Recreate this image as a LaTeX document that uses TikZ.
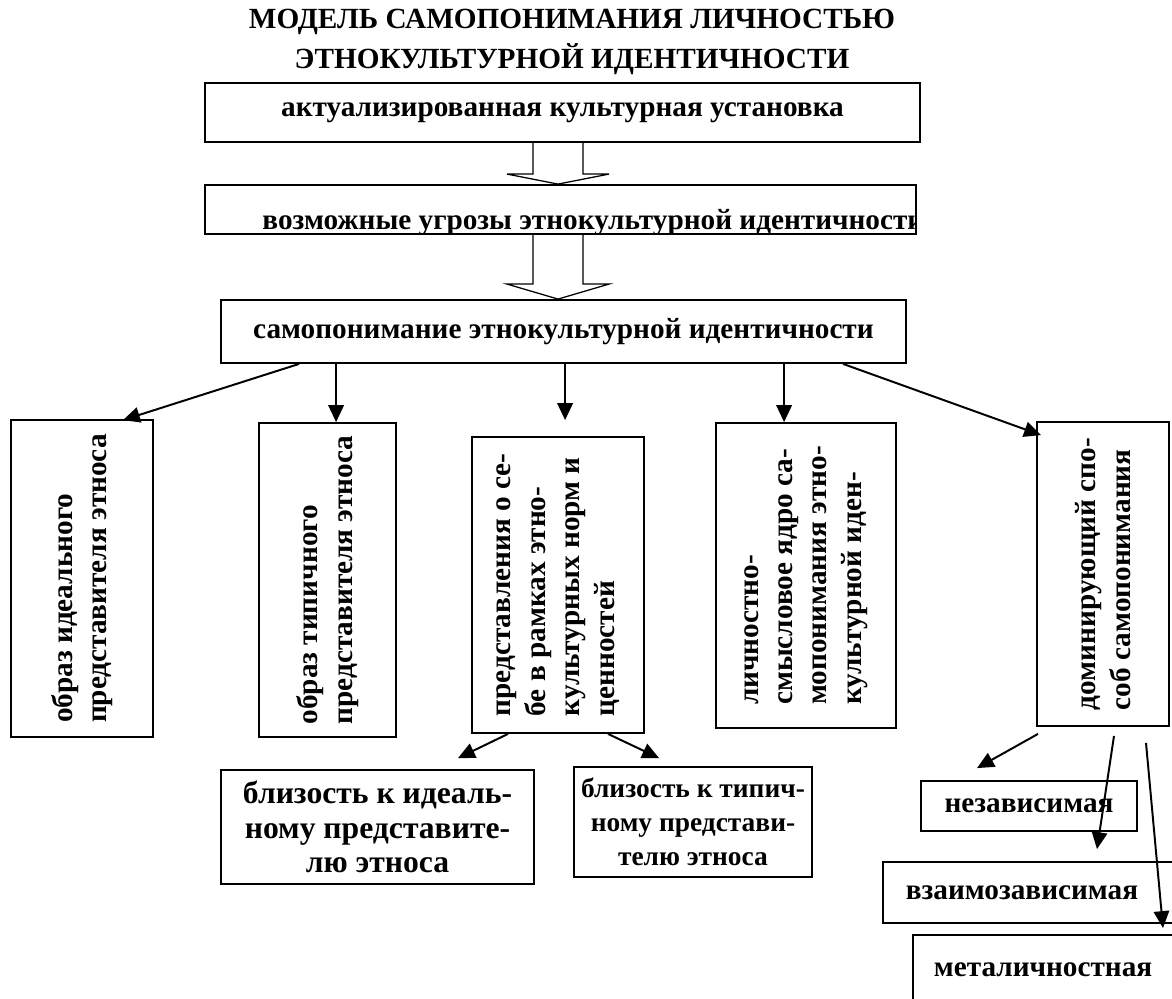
\documentclass[tikz,border=0pt]{standalone}
\usepackage{fontspec}
\setmainfont{Liberation Serif}
\usetikzlibrary{arrows.meta,calc}
\newlength{\ux}
\setlength{\ux}{0.025cm}

\begin{document}
\begin{tikzpicture}[x=0.025cm, y=-0.025cm,
    font=\bfseries\fontsize{20.8}{24.5}\selectfont,
    box/.style={draw, line width=1.3pt, inner sep=0pt, align=center},
    vbox/.style={box, rotate=90, align=left},
    link/.style={-{Triangle[length=12pt,width=11pt]}, line width=1.4pt},
    hollow/.style={line width=0.9pt}]

  % set the visible area of the figure
  \useasboundingbox (0,0) rectangle (1172,999);
  \clip (0,0) rectangle (1172,999);

  % the title
  \node [align=center, font=\bfseries\fontsize{20.8}{28}\selectfont] (title) at (572,42)
    {МОДЕЛЬ САМОПОНИМАНИЯ ЛИЧНОСТЬЮ\\ЭТНОКУЛЬТУРНОЙ ИДЕНТИЧНОСТИ};

  % the chain at the top
  \node [box, minimum width=715\ux, minimum height=59\ux] (set) at (562.5,112.5)
    {актуализированная культурная установка};
  \node [box, minimum width=711\ux, minimum height=49\ux,
    path picture={\node [anchor=base west, inner sep=0pt]
      at ($(path picture bounding box.south west)+(32,-5)$)
      {возможные угрозы этнокультурной идентичности};}] (threat) at (560.5,209.5) {};
  \node [box, minimum width=685\ux, minimum height=63\ux] (self) at (563.5,331.5)
    {самопонимание этнокультурной идентичности};

  \coordinate (mid) at (558,0);
  \foreach \a/\b/\h in {set/threat/10, threat/self/15}
    \draw [hollow] ($(\a.south -| mid)+(-25,0)$) -- ($(\b.north -| mid)+(-25,-\h)$) -- ++(-26,0)
      -- (\b.north -| mid) -- ($(\b.north -| mid)+(51,-\h)$) -- ++(-26,0)
      -- ($(\a.south -| mid)+(25,0)$);

  % the five components
  \node [vbox, minimum width=317\ux, minimum height=142\ux] (ideal) at (82,578.5)
    {образ идеального\\представителя этноса};
  \node [vbox, minimum width=314\ux, minimum height=137\ux] (typical) at (327.5,580)
    {образ типичного\\представителя этноса};
  \node [vbox, minimum width=296\ux, minimum height=172\ux] (norms) at (558,585)
    {представления о се-\\бе в рамках этно-\\культурных норм и\\ценностей};
  \node [vbox, minimum width=305\ux, minimum height=180\ux] (core) at (806,575.5)
    {личностно-\\смысловое ядро са-\\мопонимания этно-\\культурной иден-};
  \node [vbox, minimum width=304\ux, minimum height=132\ux] (mode) at (1103,574)
    {доминирующий спо-\\соб самопонимания};

  % the lower boxes
  \node [box, minimum width=313\ux, minimum height=114\ux,
    font=\bfseries\fontsize{22.5}{24.5}\selectfont] (nearideal) at (377.5,827)
    {близость к идеаль-\\ному представите-\\лю этноса};
  \node [box, minimum width=238\ux, minimum height=110\ux,
    font=\bfseries\fontsize{19.5}{24}\selectfont] (neartypical) at (693,822)
    {близость к типич-\\ному представи-\\телю этноса};
  \node [box, minimum width=216\ux, minimum height=50\ux] (indep) at (1029,806)
    {независимая};
  \node [box, anchor=west, minimum height=61\ux, text width=275\ux, inner xsep=23\ux,
    align=left] (interdep) at (882,892.5) {взаимозависимая};
  \node [box, anchor=north west, minimum height=70\ux, text width=280\ux, inner xsep=21\ux,
    align=left] (meta) at (912,934) {металичностная};

  % arrows from the self-understanding box
  \draw [link] ($(self.south west)+(79,0)$) -- ($(ideal.east)+(41,1)$);
  \draw [link] ($(self.south west)+(116,0)$) coordinate (s2) -- (s2 |- typical.east);
  \draw [link] ($(self.south west)+(345,0)$) coordinate (s3) -- ($(s3 |- norms.east)+(0,-16)$);
  \draw [link] ($(self.south west)+(564,0)$) coordinate (s4) -- (s4 |- core.east);
  \draw [link] ($(self.south west)+(623,0)$) -- ($(mode.east)+(-62,14)$);

  % arrows to the lower boxes
  \draw [link] ($(norms.west)+(-50,0)$) -- ($(nearideal.north)+(80.5,-11)$);
  \draw [link] ($(norms.west)+(50,0)$) -- ($(neartypical.north west)+(86,-8)$);
  \draw [link] ($(mode.west)+(-65,7)$) -- ($(indep.north)+(-52,-12)$);
  \draw [link] ($(mode.west)+(11,9)$) -- ($(interdep.north west)+(215,-12)$);
  \draw [link] ($(mode.west)+(43,16)$) -- ($(meta.north west)+(251,-6)$);
\end{tikzpicture}
\end{document}
